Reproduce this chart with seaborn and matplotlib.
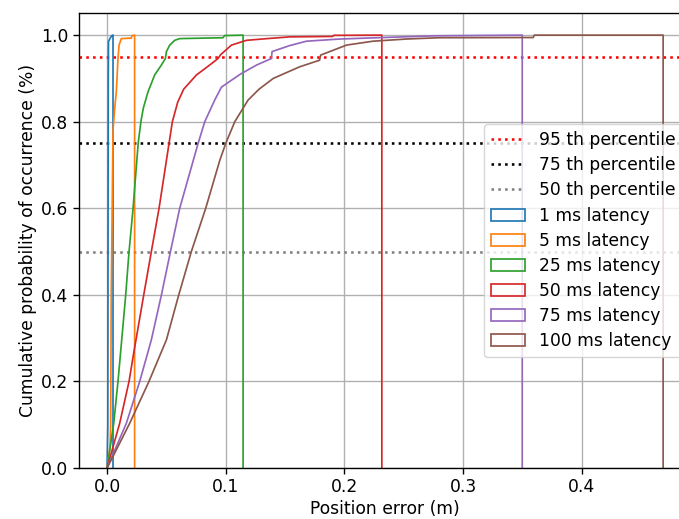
import numpy as np
import matplotlib
matplotlib.use("Agg")
import matplotlib.pyplot as plt
from matplotlib.patches import Patch
import seaborn as sns

# cdf knots: (position error in m, cumulative probability)
latency_labels = ["1 ms latency", "5 ms latency", "25 ms latency",
                  "50 ms latency", "75 ms latency", "100 ms latency"]

err_1 = [0, 0.0006, 0.0008, 0.001, 0.0012, 0.002, 0.003, 0.0045]
cdf_1 = [0, 0.1, 0.5, 0.9, 0.985, 0.99, 0.995, 1.0]

err_5 = [0, 0.0025, 0.003, 0.0035, 0.005, 0.0064, 0.0078, 0.0092, 0.0101, 0.012, 0.0205, 0.021]
cdf_5 = [0, 0.05, 0.1, 0.4, 0.78, 0.83, 0.87, 0.946, 0.977, 0.992, 0.993, 0.999]

err_25 = [0, 0.0056, 0.0092, 0.0157, 0.0185, 0.0219, 0.0262, 0.0285, 0.0305, 0.0345,
          0.0401, 0.0458, 0.0491, 0.050, 0.0528, 0.057, 0.0612, 0.0977, 0.099]
cdf_25 = [0, 0.103, 0.2, 0.4, 0.5, 0.6, 0.75, 0.8, 0.831, 0.869,
          0.908, 0.931, 0.946, 0.962, 0.977, 0.988, 0.992, 0.994, 0.999]

err_50 = [0, 0.0106, 0.0185, 0.0224, 0.0309, 0.0373, 0.0438, 0.0522, 0.055, 0.0595, 0.0645,
          0.0753, 0.0865, 0.0935, 0.0957, 0.1048, 0.1174, 0.135, 0.154, 0.19, 0.191]
cdf_50 = [0, 0.103, 0.2, 0.265, 0.4, 0.5, 0.6, 0.75, 0.8, 0.845, 0.875,
          0.908, 0.931, 0.946, 0.955, 0.977, 0.988, 0.992, 0.996, 0.997, 0.9995]

err_75 = [0, 0.0162, 0.0275, 0.0373, 0.0458, 0.0534, 0.0612, 0.0767, 0.0823, 0.0907, 0.0964,
          0.1118, 0.126, 0.1385, 0.139, 0.154, 0.168, 0.196, 0.238, 0.278]
cdf_75 = [0, 0.103, 0.2, 0.296, 0.4, 0.5, 0.6, 0.75, 0.8, 0.85, 0.88,
          0.909, 0.931, 0.946, 0.962, 0.976, 0.986, 0.991, 0.995, 0.9985]

err_100 = [0, 0.0078, 0.019, 0.0353, 0.05, 0.0604, 0.071, 0.0831, 0.095, 0.1, 0.1076, 0.1188,
           0.128, 0.140, 0.1624, 0.179, 0.18, 0.2018, 0.224, 0.252, 0.28, 0.359, 0.36]
cdf_100 = [0, 0.042, 0.103, 0.2, 0.296, 0.4, 0.5, 0.6, 0.711, 0.75, 0.8, 0.85,
           0.875, 0.9, 0.927, 0.942, 0.954, 0.977, 0.986, 0.991, 0.994, 0.9945, 1.0]

# largest error of each series (where the step outline drops back to 0)
max_err = [0.005, 0.0232, 0.1146, 0.2315, 0.3498, 0.4685]

percentiles = [0.95, 0.75, 0.5]
percentile_labels = ["95 th percentile", "75 th percentile", "50 th percentile"]
percentile_colors = ["red", "black", "gray"]

errs = [err_1, err_5, err_25, err_50, err_75, err_100]
cdfs = [cdf_1, cdf_5, cdf_25, cdf_50, cdf_75, cdf_100]
colors = sns.color_palette("tab10", 6)

s = 1.23  # the reference looks rendered a bit larger than default
plt.rcParams.update({
    "font.size": 10 * s,
    "axes.linewidth": 0.8 * s,
    "xtick.major.size": 3.5 * s,
    "ytick.major.size": 3.5 * s,
    "xtick.major.width": 0.8 * s,
    "ytick.major.width": 0.8 * s,
    "xtick.major.pad": 3.0,
    "ytick.major.pad": 3.5,
    "axes.labelpad": 3.0,
})

fig = plt.figure(figsize=(6.79, 5.19), dpi=100)
ax = fig.add_axes([0.1168, 0.0983, 0.9009, 0.8757])

handles = []
for p, lab, c in zip(percentiles, percentile_labels, percentile_colors):
    h = ax.axhline(p, color=c, linestyle=":", linewidth=1.5 * s, label=lab)
    handles.append(h)

for x, y, m, c, lab in zip(errs, cdfs, max_err, colors, latency_labels):
    xs = list(x) + [m, m]
    ys = list(y) + [1.0, 0.0]
    sns.lineplot(x=xs, y=ys, sort=False, estimator=None, color=c, linewidth=1.0 * s, ax=ax)
    handles.append(Patch(facecolor="none", edgecolor=c, linewidth=1.0 * s, label=lab))

ax.set_ylim(0, 1.05)
ax.set_xlim(-0.0234, 0.492)
ax.grid(True, color="#b0b0b0", linewidth=0.8 * s)
ax.set_axisbelow(True)
ax.set_xlabel("Position error (m)")
ax.set_ylabel("Cumulative probability of occurrence (%)")
ax.legend(handles=handles, loc="center right", labelspacing=0.42)

fig.savefig("out.png", dpi=100)
